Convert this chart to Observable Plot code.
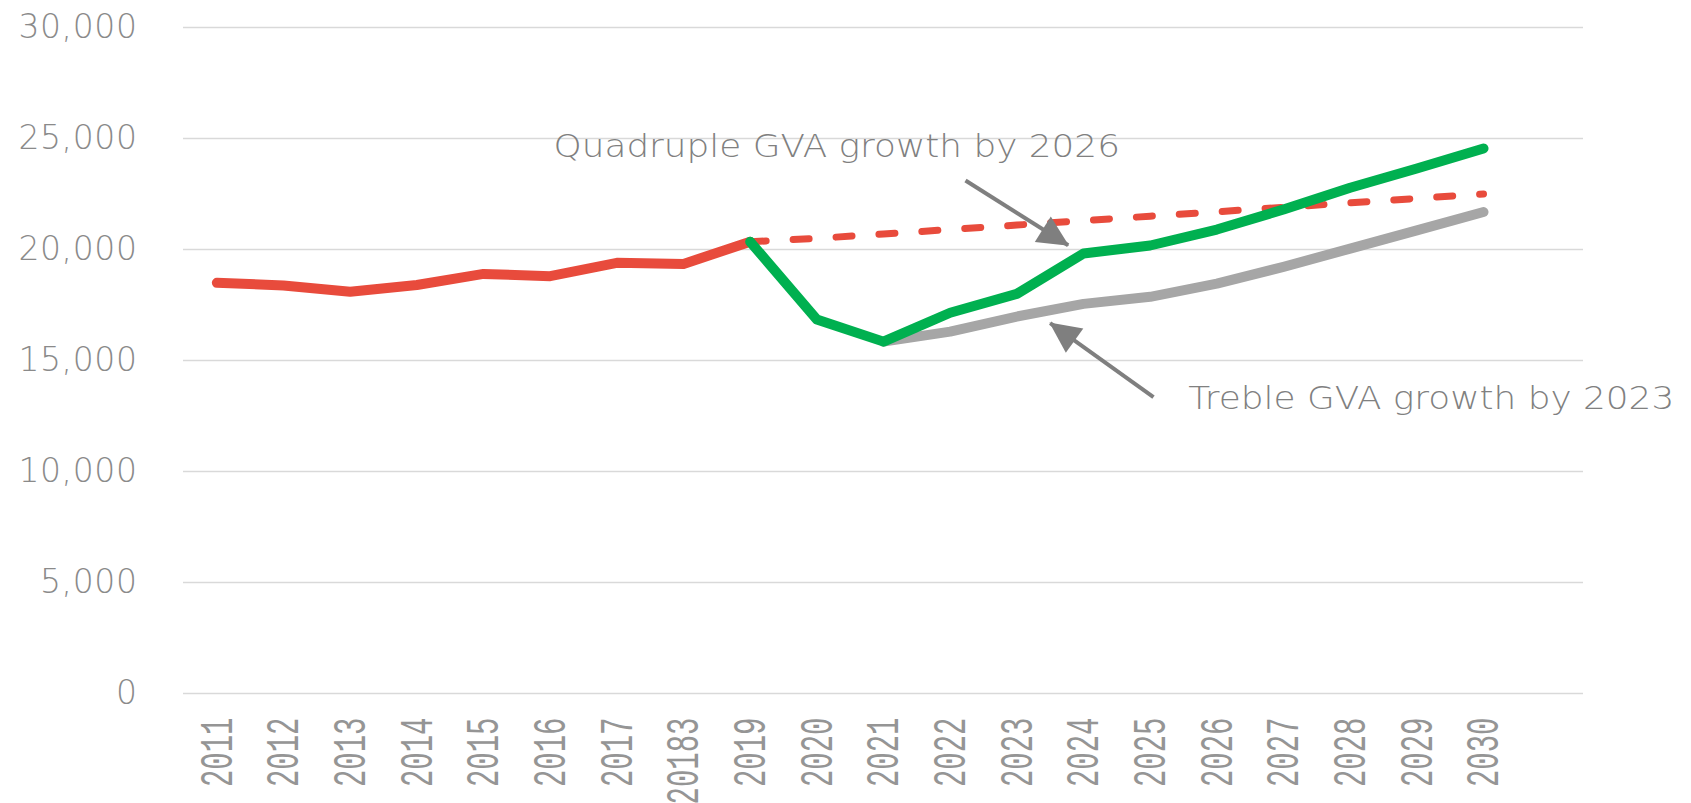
<!DOCTYPE html>
<html><head><meta charset="utf-8">
<script src="https://cdn.jsdelivr.net/npm/d3@7"></script>
<script src="https://cdn.jsdelivr.net/npm/@observablehq/plot@0.6"></script>
<style>
html,body{margin:0;padding:0;background:#fff;}
#chart svg{display:block;}
</style>
</head><body><div id="chart"></div>
<script>
// ---- data ----
const yearLabels = ["2011","2012","2013","2014","2015","2016","2017","20183","2019","2020",
                    "2021","2022","2023","2024","2025","2026","2027","2028","2029","2030"];
// historical GVA 2011..2019
const historical = [18500, 18380, 18100, 18400, 18900, 18800, 19400, 19350, 20350];
// pre-crisis trend (dashed) 2019..2030
const trend = [20350, 20500, 20700, 20900, 21100, 21300, 21500, 21700, 21900, 22100, 22300, 22500];
// quadruple GVA growth scenario 2019..2030
const quadruple = [20350, 16850, 15850, 17150, 18000, 19820, 20180, 20900, 21800, 22780, 23650, 24550];
// treble GVA growth scenario 2021..2030
const treble = [15850, 16300, 16980, 17550, 17870, 18460, 19220, 20040, 20860, 21690];
const yTicks = [0, 5000, 10000, 15000, 20000, 25000, 30000];

// annotations (x in category index units, y in GVA units)
const notes = [
  {label: "Quadruple GVA growth by 2026", x: 5.05, y: 24640},
  {label: "Treble GVA growth by 2023", x: 14.57, y: 13280}
];
const arrows = [
  {x1: 11.23, y1: 23110, x2: 12.77, y2: 20190},
  {x1: 14.05, y1: 13350, x2: 12.50, y2: 16680}
];

// ---- build tables ----
const idx = (start, arr) => arr.map((v, k) => ({i: start + k, v}));
const histData = idx(0, historical);
const trendData = idx(8, trend);
const quadData = idx(8, quadruple);
const trebData = idx(10, treble);
const xTicks = yearLabels.map((_, k) => k);

const arrowColor = "#7f7f7f";
function filledHead(color, context) {
  const doc = (context && context.document) || document;
  const ns = "http://www.w3.org/2000/svg";
  const m = doc.createElementNS(ns, "marker");
  m.setAttribute("viewBox", "-33 -17 35 34");
  m.setAttribute("markerWidth", 35);
  m.setAttribute("markerHeight", 34);
  m.setAttribute("markerUnits", "userSpaceOnUse");
  m.setAttribute("orient", "auto");
  m.setAttribute("refX", 0);
  m.setAttribute("refY", 0);
  const p = doc.createElementNS(ns, "path");
  p.setAttribute("d", "M1,0L-30,-15L-30,15Z");
  p.setAttribute("fill", arrowColor);
  p.setAttribute("stroke", "none");
  m.appendChild(p);
  return m;
}

function build(customMarker) {
  const arrowMarks = customMarker
    ? [Plot.link(arrows, {x1: "x1", y1: "y1", x2: "x2", y2: "y2", stroke: arrowColor, strokeWidth: 4, markerEnd: filledHead})]
    : [Plot.arrow(arrows, {x1: "x1", y1: "y1", x2: "x2", y2: "y2", stroke: arrowColor, strokeWidth: 4, headLength: 30, headAngle: 55})];
  return Plot.plot({
    width: 1691,
    height: 803,
    marginLeft: 183,
    marginRight: 108,
    marginTop: 27,
    marginBottom: 110,
    style: {background: "#fff", overflow: "visible"},
    x: {type: "linear", domain: [-0.5, 20.5]},
    y: {domain: [0, 30000]},
    marks: [
      Plot.gridY(yTicks, {stroke: "#d9d9d9", strokeOpacity: 1, strokeWidth: 1.5}),
      Plot.axisY(yTicks, {tickSize: 0, tickPadding: 46, tickFormat: d3.format(","), fontSize: 33,
        fontFamily: "DejaVu Sans", fontWeight: 300, color: "#8a8a8a", label: null}),
      Plot.axisX(xTicks, {tickSize: 0, tickPadding: 24, tickRotate: -90, tickFormat: (d) => yearLabels[d],
        fontSize: 29, fontFamily: "Liberation Mono", color: "#959595", label: null}),
      Plot.line(histData, {x: "i", y: "v", stroke: "#e84b3c", strokeWidth: 10, strokeLinecap: "round", strokeLinejoin: "round"}),
      Plot.line(trendData, {x: "i", y: "v", stroke: "#e84b3c", strokeWidth: 7, strokeDasharray: "16,27", strokeLinecap: "round"}),
      Plot.line(trebData, {x: "i", y: "v", stroke: "#a6a6a6", strokeWidth: 10, strokeLinecap: "round", strokeLinejoin: "round"}),
      Plot.line(quadData, {x: "i", y: "v", stroke: "#00b050", strokeWidth: 10, strokeLinecap: "round", strokeLinejoin: "round"}),
      ...arrowMarks,
      Plot.text(notes, {x: "x", y: "y", text: "label", textAnchor: "start", lineAnchor: "middle",
        fontSize: 32, fontFamily: "DejaVu Sans", fontWeight: 300, fill: "#808080"})
    ]
  });
}

let chart;
try { chart = build(true); } catch (e) { chart = build(false); }
document.getElementById("chart").appendChild(chart);

// typographic touches: condensed-tall year labels, wider annotation glyphs
d3.select(chart).selectAll('g[aria-label="x-axis tick label"] text').each(function () {
  const t = this.getAttribute("transform") || "";
  this.setAttribute("transform", t + " scale(1,1.6)");
});
d3.select(chart).selectAll('g[aria-label="text"] text').each(function () {
  const t = this.getAttribute("transform") || "";
  this.setAttribute("transform", t + " scale(1.12,1)");
});
d3.select(chart).selectAll('g[aria-label="y-axis tick label"] text').style("letter-spacing", "0.6px");
</script>
</body></html>
